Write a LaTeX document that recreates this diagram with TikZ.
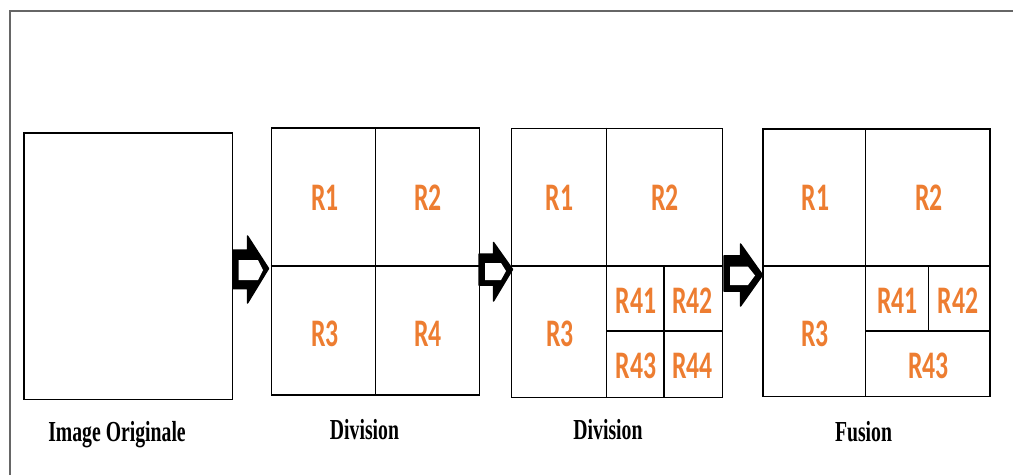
\documentclass[tikz,border=0pt]{standalone}
\usepackage{fontspec}
\newfontfamily\lblfont[FakeStretch=0.66]{Carlito}
\newfontfamily\capfont[FakeStretch=0.68]{Liberation Serif}
\definecolor{regorange}{RGB}{237,125,49}
\begin{document}
\begin{tikzpicture}[x=1pt,y=-1pt,
  box/.style={draw=black,line width=1.3pt,inner sep=0pt,anchor=north west},
  div/.style={draw=black,line width=1.1pt},
  reg/.style={text=regorange,font=\lblfont\bfseries\fontsize{39}{39}\selectfont,inner sep=0pt},
  captxt/.style={font=\capfont\bfseries\fontsize{29}{29}\selectfont,anchor=base,inner sep=0pt},
  arrowouter/.style={fill=black,draw=black,line width=1.5pt,line join=round},
  arrowinner/.style={fill=white},
  framel/.style={draw=black!60,line width=1.6pt}]
\useasboundingbox (0,0) rectangle (1013,475);
% outer frame (only top and left visible)
\draw[framel] (10,475) -- (10,11) -- (1013,11);

% boxes
\node[box,minimum width=208.4pt,minimum height=266.7pt] (b1) at (23.3,132.3) {};
\node[box,minimum width=208.3pt,minimum height=267pt] (b2) at (270.7,127.3) {};
\node[box,minimum width=210.7pt,minimum height=269pt] (b3) at (511,127.7) {};
\node[box,minimum width=227pt,minimum height=267.7pt] (b4) at (762.3,128.3) {};

% box 2 divisions
\draw[div] (375.3,127.3) -- (375.3,394.3);
\draw[div] (270.7,266) -- (479,266);
% box 3 divisions
\draw[div] (606.7,127.7) -- (606.7,396.7);
\draw[div] (511,266) -- (721.7,266);
\draw[div] (664,266) -- (664,396.7);
\draw[div] (606.7,331) -- (721.7,331);
% box 4 divisions
\draw[div] (865.7,128.3) -- (865.7,396);
\draw[div] (762.3,266) -- (989.3,266);
\draw[div] (928.3,266) -- (928.3,331);
\draw[div] (865.7,331) -- (989.3,331);

% block arrows (outlined)
\draw[arrowouter] (233,250) -- (247.5,250) -- (247.5,236) -- (268.5,268.5) -- (247.5,303) -- (247.5,288.5) -- (233,288.5) -- cycle;
\fill[arrowinner] (238.7,260) -- (258,260) -- (263,270) -- (258,280) -- (238.7,280) -- cycle;

\draw[arrowouter] (479,254) -- (493.5,254) -- (493.5,242.5) -- (512.5,269.3) -- (493.5,301) -- (493.5,285) -- (479,285) -- cycle;
\fill[arrowinner] (485,263) -- (501,263) -- (506,271) -- (501,280) -- (485,280) -- cycle;

\draw[arrowouter] (724,255.8) -- (740.5,255.8) -- (740.5,244) -- (762.5,275) -- (740.5,306) -- (740.5,291) -- (724,291) -- cycle;
\fill[arrowinner] (730,266.7) -- (748,266.7) -- (755,275.5) -- (748,285) -- (730,285) -- cycle;

% region labels
\node[reg] (a1) at (325,197.5) {R1};
\node[reg] (a2) at (428,197.5) {R2};
\node[reg] (a3) at (325,334) {R3};
\node[reg] (a4) at (428,334) {R4};

\node[reg] (c1) at (559.5,197.5) {R1};
\node[reg] (c2) at (665,197.5) {R2};
\node[reg] (c3) at (560,334) {R3};
\node[reg] (c41) at (636,301) {R41};
\node[reg] (c42) at (692.5,301) {R42};
\node[reg] (c43) at (636,366) {R43};
\node[reg] (c44) at (692.5,366) {R44};

\node[reg] (d1) at (815.3,197.5) {R1};
\node[reg] (d2) at (929,197.5) {R2};
\node[reg] (d3) at (815,334) {R3};
\node[reg] (d41) at (897.5,301) {R41};
\node[reg] (d42) at (958,301) {R42};
\node[reg] (d43) at (928.5,366) {R43};

% captions
\node[captxt] (t1) at (117,441) {Image Originale};
\node[captxt] (t2) at (364.5,439) {Division};
\node[captxt] (t3) at (608,439) {Division};
\node[captxt] (t4) at (863.5,441) {Fusion};
\end{tikzpicture}
\end{document}
